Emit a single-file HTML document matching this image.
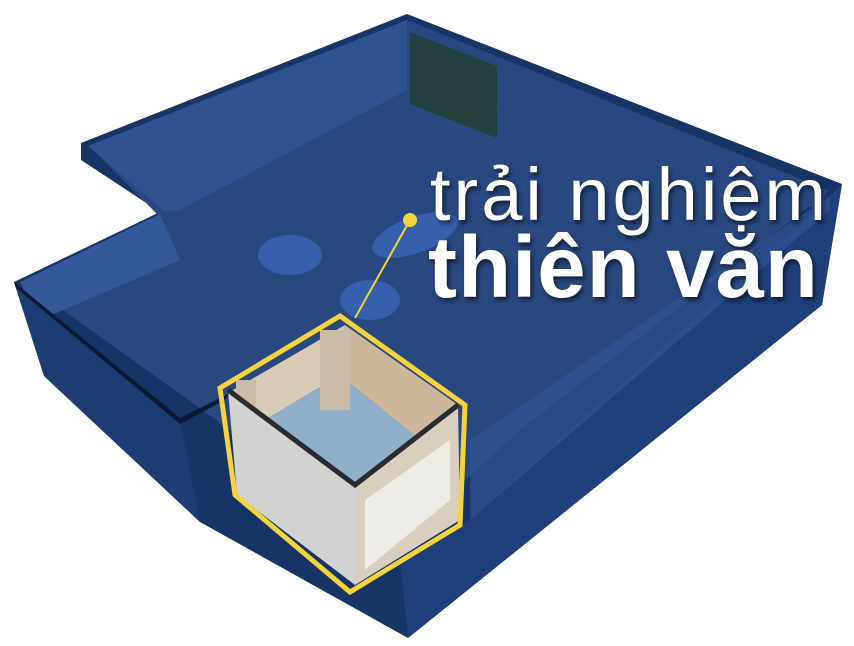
<!DOCTYPE html>
<html><head><meta charset="utf-8"><style>
html,body{margin:0;padding:0;background:#fff;}
#c{width:854px;height:646px;position:relative;overflow:hidden;}
svg{position:absolute;left:0;top:0;}
.t{position:absolute;color:#fff;font-family:"Liberation Sans","DejaVu Sans",sans-serif;white-space:nowrap;text-shadow:2px 3px 5px rgba(0,0,0,.6);}
</style></head><body>
<div id="c">
<svg width="854" height="646" viewBox="0 0 854 646">
  <polygon points="407,14 842,184 822,305 408,638 200,522 44,376 14,282 160,212 81,160 81,143" fill="#163466"/>
  <polygon points="407,26 828,192 520,430 400,540 230,430 35,290 165,222 95,152" fill="#284880"/>
  <polygon points="88,146 407,20 407,90 180,210 165,212" fill="#2f5290"/>
  <polygon points="407,20 828,190 820,210 500,110 407,90" fill="#274780"/>
  <polygon points="410,32 497,66 497,138 410,104" fill="#23403f"/>
  <polygon points="20,282 160,214 180,260 40,320" fill="#34599a"/>
  <polygon points="842,184 822,305 408,638 400,560 470,520 830,196" fill="#1d3f7a"/>
  <polygon points="830,196 470,440 470,520 830,210" fill="#34589a" opacity=".6"/>
  <polygon points="14,282 180,420 200,522 44,376" fill="#1c3c74"/>
  <polygon points="14,282 180,418 230,393 225,400 180,424 16,288" fill="#0c1a36"/>
  <ellipse cx="290" cy="255" rx="32" ry="20" fill="#3560ac"/>
  <ellipse cx="370" cy="300" rx="30" ry="20" fill="#3560ac"/>
  <ellipse cx="415" cy="235" rx="45" ry="18" fill="#3560ac" transform="rotate(-20 415 235)"/>
  <polygon points="233,390 345,325 340,375 265,420" fill="#d9ccb6"/>
  <polygon points="345,325 458,405 420,440 340,375" fill="#cdb79a"/>
  <polygon points="265,420 340,375 420,440 355,485" fill="#8fb0c8"/>
  <rect x="320" y="330" width="30" height="80" fill="#c9bba6"/>
  <rect x="236" y="380" width="20" height="40" fill="#c9bba6"/>
  <polygon points="228,390 355,485 355,585 237,495" fill="#d2d2d0"/>
  <polygon points="355,485 458,405 460,520 355,585" fill="#d8cfbf"/>
  <polygon points="365,500 450,440 450,500 365,570" fill="#eeece6"/>
  <polyline points="228,390 355,485 458,405" fill="none" stroke="#2a2a30" stroke-width="5"/>
  <polygon points="340,316 220,388 235,495 350,592 460,525 465,405" fill="none" stroke="#f5d33c" stroke-width="5" stroke-linejoin="miter"/>
  <line x1="410" y1="220" x2="355" y2="318" stroke="#f5d33c" stroke-width="2"/>
  <circle cx="410" cy="220" r="7" fill="#f5d33c"/>
</svg>
<div class="t" style="left:430px;top:152px;font-size:74px;font-weight:400;letter-spacing:3px;">trải nghiệm</div>
<div class="t" style="left:428px;top:218px;font-size:87px;font-weight:700;letter-spacing:1px;">thiên văn</div>
</div>
</body></html>
